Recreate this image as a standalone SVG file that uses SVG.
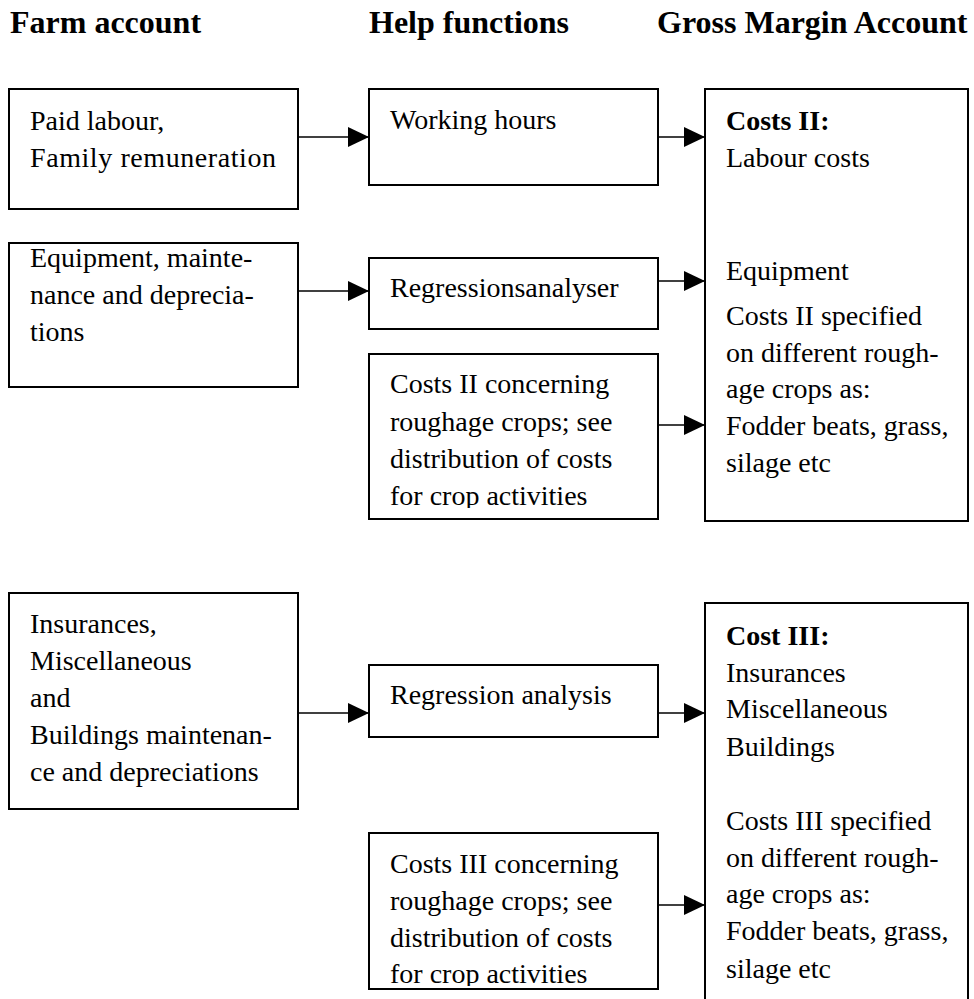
<svg xmlns="http://www.w3.org/2000/svg" width="974" height="999" viewBox="0 0 974 999">
  <style>
    .box { fill: #ffffff; stroke: #000000; stroke-width: 2; }
    .link { fill: none; stroke: #000000; stroke-width: 1.6; }
    text { font-family: "Liberation Serif", "Times New Roman", serif; font-size: 28px; fill: #000000; }
    .head { font-size: 32px; font-weight: bold; }
    .b { font-weight: bold; }
  </style>
  <defs>
    <marker id="arrow" markerUnits="userSpaceOnUse" markerWidth="21" markerHeight="20" refX="21" refY="10" orient="auto">
      <path d="M0,0 L21,10 L0,20 Z" fill="#000000"/>
    </marker>
    <clipPath id="clipTop"><rect x="369" y="354" width="289" height="154"/></clipPath>
    <clipPath id="clipBottom"><rect x="369" y="833" width="289" height="153"/></clipPath>
  </defs>

  <!-- column headings -->
  <g id="headings">
    <text class="head" x="10" y="33">Farm account</text>
    <text class="head" x="369" y="33">Help functions</text>
    <text class="head" x="657" y="33">Gross Margin Account</text>
  </g>

  <!-- farm account column -->
  <g id="paid-labour">
    <rect class="box" x="9" y="89" width="289" height="120"/>
    <text x="30" y="130">Paid labour,</text>
    <text x="30" y="167" textLength="246" lengthAdjust="spacing">Family remuneration</text>
  </g>
  <g id="equipment">
    <rect class="box" x="9" y="243" width="289" height="144"/>
    <text x="30" y="267">Equipment, mainte-</text>
    <text x="30" y="304">nance and deprecia-</text>
    <text x="30" y="341">tions</text>
  </g>
  <g id="insurances">
    <rect class="box" x="9" y="593" width="289" height="216"/>
    <text x="30" y="633">Insurances,</text>
    <text x="30" y="670">Miscellaneous</text>
    <text x="30" y="707">and</text>
    <text x="30" y="744">Buildings maintenan-</text>
    <text x="30" y="781">ce and depreciations</text>
  </g>

  <!-- help functions column -->
  <g id="working-hours">
    <rect class="box" x="369" y="89" width="289" height="96"/>
    <text x="390" y="129">Working hours</text>
  </g>
  <g id="regressionsanalyser">
    <rect class="box" x="369" y="258" width="289" height="71"/>
    <text x="390" y="297">Regressionsanalyser</text>
  </g>
  <g id="costs2-roughage">
    <rect class="box" x="369" y="354" width="289" height="165"/>
    <g clip-path="url(#clipTop)">
      <text x="390" y="393">Costs II concerning</text>
      <text x="390" y="431">roughage crops; see</text>
      <text x="390" y="468">distribution of costs</text>
      <text x="390" y="505">for crop activities</text>
    </g>
  </g>
  <g id="regression-analysis">
    <rect class="box" x="369" y="665" width="289" height="72"/>
    <text x="390" y="704">Regression analysis</text>
  </g>
  <g id="costs3-roughage">
    <rect class="box" x="369" y="833" width="289" height="156"/>
    <g clip-path="url(#clipBottom)">
      <text x="390" y="873">Costs III concerning</text>
      <text x="390" y="910">roughage crops; see</text>
      <text x="390" y="947">distribution of costs</text>
      <text x="390" y="983">for crop activities</text>
    </g>
  </g>

  <!-- gross margin account column -->
  <g id="costs2">
    <rect class="box" x="705" y="89" width="263" height="432"/>
    <text class="b" x="726" y="130">Costs II:</text>
    <text x="726" y="167">Labour costs</text>
    <text x="726" y="280">Equipment</text>
    <text x="726" y="325">Costs II specified</text>
    <text x="726" y="362">on different rough-</text>
    <text x="726" y="398">age crops as:</text>
    <text x="726" y="435">Fodder beats, grass,</text>
    <text x="726" y="472">silage etc</text>
  </g>
  <g id="costs3">
    <path class="box" d="M705,1005 L705,603 L968,603 L968,1005" fill="none"/>
    <text class="b" x="726" y="645">Cost III:</text>
    <text x="726" y="682">Insurances</text>
    <text x="726" y="718">Miscellaneous</text>
    <text x="726" y="756">Buildings</text>
    <text x="726" y="830">Costs III specified</text>
    <text x="726" y="867">on different rough-</text>
    <text x="726" y="903">age crops as:</text>
    <text x="726" y="940">Fodder beats, grass,</text>
    <text x="726" y="978">silage etc</text>
  </g>

  <!-- connectors -->
  <g id="connectors">
    <line class="link" x1="298" y1="137" x2="369" y2="137" marker-end="url(#arrow)"/>
    <line class="link" x1="298" y1="291" x2="369" y2="291" marker-end="url(#arrow)"/>
    <line class="link" x1="658" y1="137" x2="705" y2="137" marker-end="url(#arrow)"/>
    <line class="link" x1="658" y1="281" x2="705" y2="281" marker-end="url(#arrow)"/>
    <line class="link" x1="658" y1="425" x2="705" y2="425" marker-end="url(#arrow)"/>
    <line class="link" x1="298" y1="713" x2="369" y2="713" marker-end="url(#arrow)"/>
    <line class="link" x1="658" y1="713" x2="705" y2="713" marker-end="url(#arrow)"/>
    <line class="link" x1="658" y1="905" x2="705" y2="905" marker-end="url(#arrow)"/>
  </g>
</svg>
